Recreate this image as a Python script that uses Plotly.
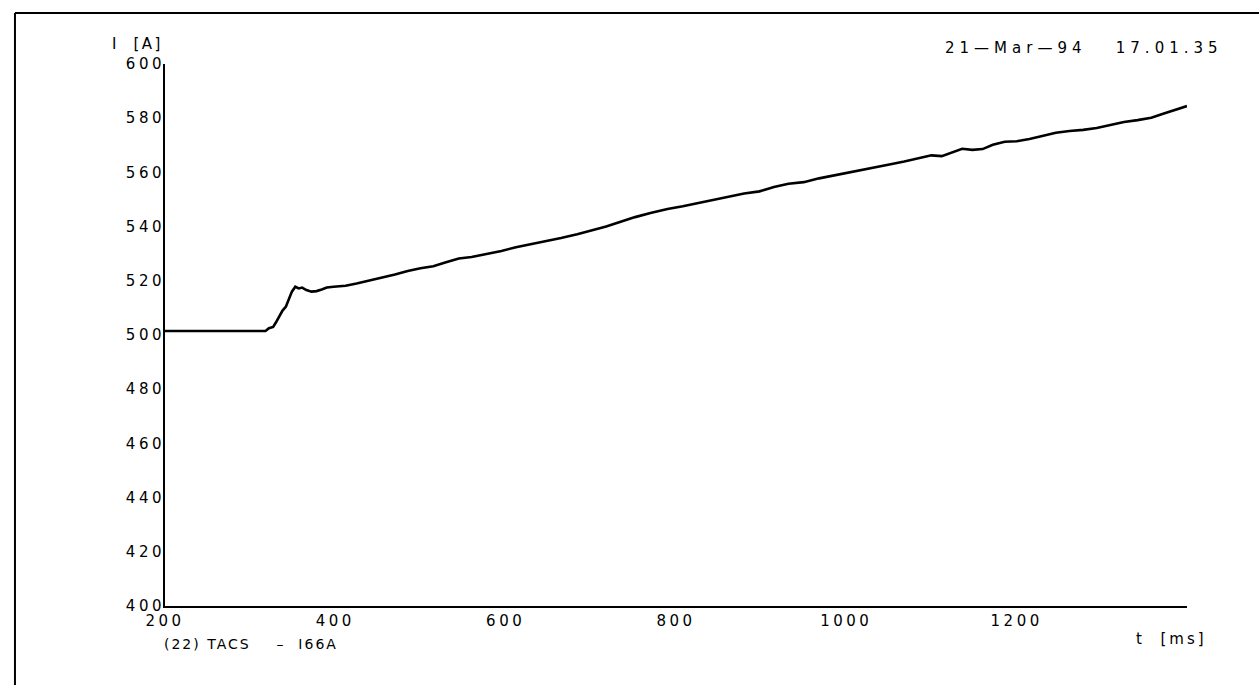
import plotly.graph_objects as go

# Measured current trace (digitised recorder output)
t_ms = [200, 318, 322, 327, 330, 334, 338, 342, 345, 349, 353, 357, 361, 366, 372,
        378, 384, 390, 398, 412, 425, 440, 455, 470, 485, 500, 515, 530, 545, 560,
        578, 595, 612, 630, 648, 665, 684, 700, 718, 735, 752, 770, 790, 808, 826,
        845, 862, 880, 898, 915, 932, 950, 968, 985, 1002, 1020, 1036, 1052, 1068,
        1085, 1100, 1112, 1124, 1136, 1148, 1160, 1172, 1186, 1200, 1215, 1230, 1246,
        1262, 1278, 1294, 1310, 1326, 1342, 1358, 1372, 1386, 1400]
i_amp = [501.5, 501.5, 502.5, 503, 504.5, 507, 509, 510.5, 513, 516, 517.8, 517.2,
         517.5, 516.6, 516, 516.2, 516.8, 517.5, 517.8, 518.2, 519, 520, 521.2, 522.3,
         523.6, 524.6, 525.4, 526.8, 528.2, 528.8, 529.8, 531, 532.4, 533.5, 534.6,
         535.8, 537.2, 538.6, 540, 541.8, 543.5, 545, 546.5, 547.5, 548.7, 550, 551.2,
         552.2, 553, 554.6, 555.8, 556.4, 557.8, 558.9, 559.8, 561.2, 562.2, 563, 564,
         565.2, 566.3, 566, 567.5, 568.7, 568.3, 568.6, 570.2, 571.3, 571.5, 572.3,
         573.4, 574.6, 575.3, 575.7, 576.4, 577.4, 578.6, 579.3, 580.2, 581.6, 583,
         584.5]

x_ticks = [200, 400, 600, 800, 1000, 1200]
y_ticks = [400, 420, 440, 460, 480, 500, 520, 540, 560, 580, 600]

x_range = [200, 1400]
y_range = [400, 600]

FONT = "DejaVu Sans"


def spaced(text, px):
    """Wide plotter-style lettering via SVG letter spacing."""
    return f'<span style="letter-spacing:{px}px">{text}</span>'


fig = go.Figure()
fig.add_trace(go.Scatter(
    x=t_ms, y=i_amp, mode="lines",
    line=dict(color="black", width=2.6),
    hoverinfo="skip", showlegend=False,
))

fig.update_layout(
    width=1259, height=685,
    margin=dict(l=165, r=72, t=64, b=79, pad=0),
    paper_bgcolor="white", plot_bgcolor="white",
    font=dict(family=FONT, size=15, color="black"),
    xaxis=dict(
        range=x_range, tickvals=x_ticks,
        ticktext=[spaced(str(v), 3.5) for v in x_ticks],
        showgrid=False, zeroline=False, showline=True, linecolor="black",
        linewidth=2, ticks="", ticklen=0,
    ),
    yaxis=dict(
        range=y_range, tickvals=y_ticks,
        ticktext=[spaced(str(v), 3.5) for v in y_ticks],
        showgrid=False, zeroline=False, showline=True, linecolor="black",
        linewidth=2, ticks="", ticklen=0, ticklabelstandoff=-5,
    ),
    shapes=[
        # outer frame (top and left edges)
        dict(type="line", xref="paper", yref="paper", x0=-0.1468, x1=1.2,
             y0=1.094, y1=1.094, line=dict(color="black", width=2)),
        dict(type="line", xref="paper", yref="paper", x0=-0.1468, x1=-0.1468,
             y0=1.094, y1=-0.3, line=dict(color="black", width=2)),
    ],
    annotations=[
        dict(text=spaced("I  [A]", 2.5), xref="paper", yref="paper",
             x=-0.054, y=1.037, xanchor="left", yanchor="middle",
             showarrow=False, font=dict(family=FONT, size=15)),
        dict(text=spaced("21\u2014Mar\u201494   17.01.35", 5),
             xref="paper", yref="paper", x=1.037, y=1.03, xanchor="right",
             yanchor="middle", showarrow=False, font=dict(family=FONT, size=15)),
        dict(text=spaced("t  [ms]", 3), xref="paper", yref="paper",
             x=1.022, y=-0.061, xanchor="right", yanchor="middle",
             showarrow=False, font=dict(family=FONT, size=15)),
        dict(text=spaced("(22) TACS    \u2013  I66A", 2), xref="paper",
             yref="paper", x=-0.003, y=-0.07, xanchor="left",
             yanchor="middle", showarrow=False, font=dict(family=FONT, size=14)),
    ],
)

fig.write_html("out.html")
